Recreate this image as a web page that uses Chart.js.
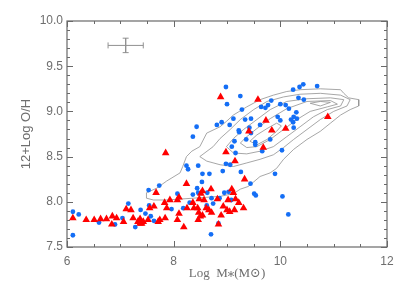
<!DOCTYPE html>
<html>
<head>
<meta charset="utf-8">
<script src="https://cdn.jsdelivr.net/npm/chart.js@4.4.1/dist/chart.umd.min.js"></script>
<style>
  html, body { margin: 0; padding: 0; background: #fff; }
  canvas { display: block; }
</style>
</head>
<body>
<canvas id="mz-chart" width="407" height="291"></canvas>
<script>
// ----------------------------
// Data
// ----------------------------
const xTicks = [6, 8, 10, 12];
const yTicks = [7.5, 8.0, 8.5, 9.0, 9.5, 10.0];

// blue dots
const blueX = [6.11, 6.22, 6.11, 6.60, 6.90, 7.04, 7.15, 7.28, 7.38, 7.47, 7.54, 7.57, 7.53, 7.63, 7.73,
  7.96, 8.07, 8.18, 8.30, 8.36, 8.44, 8.46, 8.53, 8.63, 8.71, 8.74, 8.86, 8.95, 9.03, 9.08, 8.70, 8.84, 8.62,
  8.98, 9.25, 9.00, 9.28, 8.90, 8.81, 8.43, 8.36, 9.05, 9.12, 9.34, 9.45, 9.22, 9.23, 9.42, 9.45, 9.36,
  9.53, 9.53, 9.14, 9.09, 9.16, 9.06, 8.98, 8.92, 9.26, 8.46, 8.24, 8.27, 8.54, 8.67,
  9.64, 9.72, 9.77, 9.83, 10.00, 10.10, 10.16, 10.24, 10.36, 10.43, 10.34, 10.44, 10.69,
  10.30, 10.25, 10.20, 10.24, 10.25, 10.31, 9.95, 10.00, 9.81, 9.62, 9.66, 10.03, 9.90,
  9.44, 9.51, 9.54, 10.04, 10.15];
const blueY = [7.89, 7.86, 7.63, 7.77, 7.75, 7.82, 7.98, 7.72, 7.91, 7.87, 7.96, 7.84, 8.13, 7.79, 8.18,
  7.92, 8.09, 7.93, 7.99, 8.08, 8.15, 8.10, 8.22, 8.10, 8.04, 7.98, 8.04, 8.10, 8.11, 8.02, 7.64, 7.76, 7.96,
  9.27, 9.17, 9.08, 9.02, 8.88, 8.85, 8.83, 8.72, 8.85, 8.92, 8.91, 8.92, 8.79, 8.77, 8.82, 8.76, 8.69,
  8.66, 8.63, 8.67, 8.61, 8.54, 8.41, 8.42, 8.34, 8.33, 8.40, 8.40, 8.36, 8.31, 8.31,
  9.05, 9.04, 9.07, 9.12, 9.08, 9.07, 9.03, 9.24, 9.27, 9.30, 9.15, 9.13, 9.28,
  8.99, 8.94, 8.91, 8.88, 8.82, 8.92, 8.94, 8.90, 8.69, 8.85, 8.56, 8.57, 8.31,
  8.20, 8.09, 8.07, 8.06, 7.86];

// red triangles
const redX = [6.11, 6.36, 6.51, 6.63, 6.74, 6.85, 6.93, 6.84, 7.06, 7.11, 7.20, 7.24, 7.33, 7.37, 7.40,
  7.43, 7.37, 7.52, 7.55, 7.63, 7.67, 7.71, 7.74, 7.83, 7.84, 7.85, 7.87, 7.93, 8.07, 8.10, 8.07, 8.10,
  8.19, 8.24, 8.25, 8.36, 8.38, 8.45, 8.46, 8.47, 8.48, 8.51, 8.54, 8.54, 8.57, 8.61, 8.66, 8.71, 8.70,
  8.82, 8.84, 8.89, 8.93, 9.00, 9.02, 9.05, 9.09, 9.12, 9.14, 9.16, 9.22, 9.31, 9.33, 9.15, 8.98, 8.88,
  9.58, 9.73, 9.41, 9.68, 9.84, 10.10, 10.89, 8.50];
const redY = [7.82, 7.80, 7.80, 7.81, 7.81, 7.84, 7.82, 7.75, 7.78, 7.92, 7.91, 7.82, 7.78, 7.81, 7.76,
  7.78, 7.76, 7.80, 7.93, 7.95, 8.10, 7.78, 7.80, 7.99, 7.82, 8.54, 7.93, 8.02, 7.80, 7.87, 8.02, 8.05,
  7.72, 8.20, 7.93, 7.99, 7.93, 7.93, 7.80, 7.88, 8.03, 8.09, 8.12, 7.85, 8.02, 7.93, 7.91, 7.88, 8.14,
  8.03, 7.75, 7.85, 7.95, 7.91, 8.02, 7.89, 8.14, 8.10, 7.91, 8.03, 7.99, 7.93, 8.25, 8.45, 8.55, 9.16,
  9.13, 8.90, 8.78, 8.60, 8.79, 8.81, 8.94, 7.84];

// density contours of the comparison sample, outer to inner
const contour1 = [[7.49, 8.10], [7.68, 8.15], [7.87, 8.23], [8.12, 8.32], [8.17, 8.39], [8.24, 8.50],
  [8.34, 8.56], [8.49, 8.61], [8.62, 8.76], [8.87, 8.83], [8.99, 8.89], [9.12, 8.96], [9.37, 9.05],
  [9.62, 9.13], [9.87, 9.18], [10.12, 9.22], [10.37, 9.24], [10.75, 9.25], [11.13, 9.24], [11.19, 9.20],
  [11.28, 9.15], [11.47, 9.13], [11.47, 9.06], [11.31, 9.02], [11.13, 8.96], [10.94, 8.87], [10.75, 8.78],
  [10.50, 8.69], [10.25, 8.58], [10.06, 8.47], [9.93, 8.37], [9.81, 8.32], [9.62, 8.28], [9.50, 8.22],
  [9.40, 8.17], [9.25, 8.14], [9.12, 8.09], [8.87, 8.06], [8.62, 8.05], [8.37, 8.04], [8.12, 8.03],
  [7.87, 8.02], [7.62, 8.02], [7.49, 8.04], [7.49, 8.10]];
const contour2 = [[8.49, 8.50], [8.74, 8.61], [8.87, 8.70], [9.06, 8.80], [9.25, 8.91], [9.50, 9.02],
  [9.75, 9.11], [10.06, 9.16], [10.37, 9.19], [10.75, 9.20], [11.13, 9.18], [11.31, 9.13], [11.25, 9.06],
  [11.00, 9.00], [10.75, 8.91], [10.50, 8.80], [10.25, 8.69], [10.06, 8.60], [9.87, 8.52], [9.62, 8.47],
  [9.37, 8.43], [9.12, 8.39], [8.87, 8.41], [8.62, 8.45], [8.49, 8.50]];
const contour3 = [[8.99, 8.61], [9.12, 8.70], [9.31, 8.80], [9.56, 8.91], [9.81, 9.02], [10.12, 9.11],
  [10.50, 9.14], [10.94, 9.15], [11.19, 9.13], [11.13, 9.06], [10.88, 9.02], [10.62, 8.94], [10.37, 8.83],
  [10.12, 8.72], [9.87, 8.61], [9.62, 8.56], [9.37, 8.53], [9.12, 8.54], [8.99, 8.61]];
const contour4 = [[9.25, 8.65], [9.37, 8.72], [9.56, 8.81], [9.81, 8.92], [10.12, 9.03], [10.50, 9.11],
  [10.94, 9.12], [11.07, 9.08], [10.88, 9.05], [10.56, 9.00], [10.31, 8.91], [10.06, 8.80], [9.81, 8.69],
  [9.56, 8.61], [9.37, 8.60], [9.25, 8.65]];
const contour5 = [[9.43, 8.67], [9.56, 8.74], [9.75, 8.81], [9.93, 8.87], [10.02, 8.84], [9.93, 8.78],
  [9.75, 8.69], [9.56, 8.63], [9.43, 8.67]];
const contour6 = [[10.56, 9.09], [10.75, 9.11], [10.94, 9.10], [10.75, 9.06], [10.56, 9.09]];

// typical uncertainty
const errCenter = [7.10, 9.73];
const errX = 0.33;
const errY = 0.08;

// ----------------------------
// Styling
// ----------------------------
const BLUE = "rgb(20, 110, 245)";
const RED = "rgb(255, 0, 0)";
const CONTOUR_GREY = "rgb(145, 145, 145)";
const FRAME_GREY = "rgb(105, 105, 105)";
const TEXT_GREY = "rgb(110, 110, 110)";

const toPoints = (xs, ys) => xs.map((x, i) => ({ x, y: ys[i] }));
const pairsToPoints = pairs => pairs.map(([x, y]) => ({ x, y }));

const contourSet = pairs => ({
  type: "line",
  data: pairsToPoints(pairs),
  showLine: true,
  borderColor: CONTOUR_GREY,
  borderWidth: 0.8,
  pointRadius: 0,
  fill: false,
  tension: 0,
  order: 5
});

// inward tick marks on all four sides + frame
const frameTicks = {
  id: "frameTicks",
  afterDraw(chart) {
    const { ctx, chartArea: a, scales: { x, y } } = chart;
    ctx.save();
    ctx.strokeStyle = FRAME_GREY;
    ctx.lineWidth = 1.2;
    ctx.strokeRect(a.left, a.top, a.right - a.left, a.bottom - a.top);
    ctx.lineWidth = 1;
    ctx.beginPath();
    for (let v = x.min; v <= x.max + 1e-9; v += 0.5) {
      const px = Math.round(x.getPixelForValue(v)) + 0.5;
      const len = xTicks.includes(v) ? 6 : 3;
      ctx.moveTo(px, a.bottom); ctx.lineTo(px, a.bottom - len);
      ctx.moveTo(px, a.top); ctx.lineTo(px, a.top + len);
    }
    for (let i = 0; i <= Math.round((y.max - y.min) / 0.1); i++) {
      const v = y.min + i * 0.1;
      const py = Math.round(y.getPixelForValue(v)) + 0.5;
      const major = yTicks.some(t => Math.abs(t - v) < 1e-6);
      const len = major ? 6 : 3;
      ctx.moveTo(a.left, py); ctx.lineTo(a.left + len, py);
      ctx.moveTo(a.right, py); ctx.lineTo(a.right - len, py);
    }
    ctx.stroke();
    ctx.restore();
  }
};

const errorBars = [
  {
    data: [{ x: errCenter[0] - errX, y: errCenter[1] }, { x: errCenter[0] + errX, y: errCenter[1] }],
    pointStyle: "line", rotation: 90
  },
  {
    data: [{ x: errCenter[0], y: errCenter[1] + errY }, { x: errCenter[0], y: errCenter[1] - errY }],
    pointStyle: "line", rotation: 0
  }
].map(d => ({
  type: "line",
  data: d.data,
  showLine: true,
  borderColor: CONTOUR_GREY,
  borderWidth: 1,
  pointStyle: d.pointStyle,
  rotation: d.rotation,
  pointRadius: 3,
  pointBorderColor: CONTOUR_GREY,
  pointBorderWidth: 1,
  order: 4
}));

new Chart(document.getElementById("mz-chart"), {
  type: "scatter",
  data: {
    datasets: [
      {
        data: toPoints(redX, redY),
        pointStyle: "triangle",
        pointRadius: 4.4,
        backgroundColor: RED,
        borderColor: RED,
        borderWidth: 0,
        order: 1
      },
      {
        data: toPoints(blueX, blueY),
        pointStyle: "circle",
        pointRadius: 2.4,
        backgroundColor: BLUE,
        borderColor: BLUE,
        borderWidth: 0,
        order: 2
      },
      ...errorBars,
      ...[contour1, contour2, contour3, contour4, contour5, contour6].map(contourSet)
    ]
  },
  options: {
    responsive: false,
    animation: false,
    layout: { padding: { left: 0, top: 21, right: 20, bottom: 0 } },
    plugins: { legend: { display: false }, tooltip: { enabled: false } },
    scales: {
      x: {
        type: "linear",
        min: 6, max: 12,
        afterBuildTicks: s => { s.ticks = xTicks.map(v => ({ value: v })); },
        afterFit: s => { s.height = 44; },
        grid: { display: false, drawTicks: false },
        border: { display: false },
        ticks: {
          padding: 7,
          color: TEXT_GREY,
          font: { family: "'Liberation Sans', Arial, sans-serif", size: 12 },
          callback: v => String(v)
        },
        title: {
          display: true,
          text: "Log  M\u204E(M\u2299)",
          color: TEXT_GREY,
          font: { family: "'Liberation Serif', 'DejaVu Serif', serif", size: 13 },
          padding: { top: 0, bottom: 10 }
        }
      },
      y: {
        type: "linear",
        min: 7.5, max: 10,
        afterBuildTicks: s => { s.ticks = yTicks.map(v => ({ value: v })); },
        afterFit: s => { s.width = 67; },
        grid: { display: false, drawTicks: false },
        border: { display: false },
        ticks: {
          padding: 4,
          color: TEXT_GREY,
          font: { family: "'Liberation Sans', Arial, sans-serif", size: 12 },
          callback: v => v.toFixed(1)
        },
        title: {
          display: true,
          text: "12+Log O/H",
          color: TEXT_GREY,
          font: { family: "'Liberation Sans', Arial, sans-serif", size: 13 },
          padding: { top: 19, bottom: 0 }
        }
      }
    }
  },
  plugins: [frameTicks]
});
</script>
</body>
</html>
